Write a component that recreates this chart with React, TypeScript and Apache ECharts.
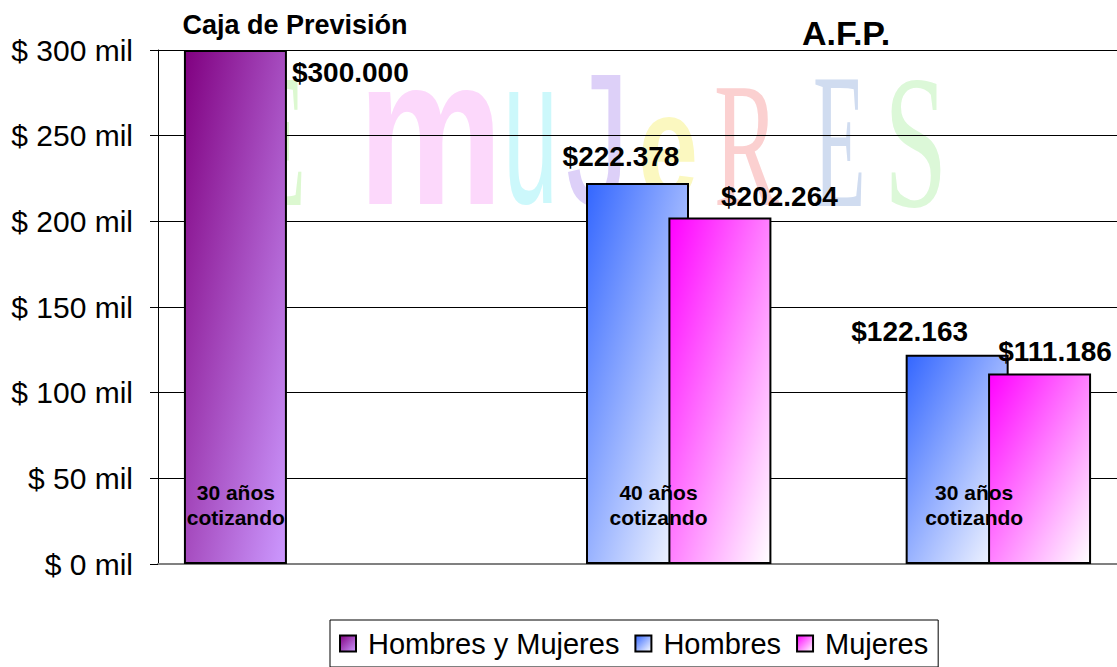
import React, { useEffect, useRef } from "react";
import * as echarts from "echarts";

const categories = ["Caja de Previsión", "A.F.P. 40 años", "A.F.P. 30 años"];
const seriesNames = ["Hombres y Mujeres", "Hombres", "Mujeres"];
const ambos: (number | null)[] = [300000, null, null];
const hombres: (number | null)[] = [null, 222378, 122163];
const mujeres: (number | null)[] = [null, 202264, 111186];
const annotations = ["30 años\ncotizando", "40 años\ncotizando", "30 años\ncotizando"];
const annotationShift = [-82, 21, 17];
const annotationValue = 34700;

// label anchor positions relative to each bar's top-left corner
const ambosLabelPos: number[][] = [[108, 22], [0, 0], [0, 0]];
const hombresLabelPos: number[][] = [[0, 0], [35, -26], [4, -23]];
const mujeresLabelPos: number[][] = [[0, 0], [111, -21], [67, -22]];

const FONT = 'Arial, "Liberation Sans", sans-serif';
const SERIF = '"Liberation Serif", "DejaVu Serif", serif';

const fmt = (v: number) => "$" + String(v).replace(/\B(?=(\d{3})+(?!\d))/g, ".");

const grad = (a: string, b: string) =>
  new echarts.graphic.LinearGradient(0, 0, 1, 1, [
    { offset: 0, color: a },
    { offset: 1, color: b },
  ]);

const watermark = [
  { t: "E", x: 248, y: 140, font: `190px ${SERIF}`, fill: "#dcf8d0", sx: 0.5, sy: 1 },
  { t: "m", x: 358, y: 131, font: `bold 163px ${FONT}`, fill: "#fcd8fb", sx: 1, sy: 1.3 },
  { t: "u", x: 503, y: 131, font: `110px ${FONT}`, fill: "#ccf8fb", sx: 0.9, sy: 1.9 },
  { t: "J", x: 566, y: 139, font: `150px ${FONT}`, fill: "#ddd0f8", sx: 0.85, sy: 1.25 },
  { t: "e", x: 638, y: 146, font: `bold 108px ${FONT}`, fill: "#fbf8c0", sx: 1, sy: 1.4 },
  { t: "R", x: 714, y: 146, font: `177px ${SERIF}`, fill: "#fbd0d0", sx: 0.55, sy: 1 },
  { t: "E", x: 813, y: 141, font: `192px ${SERIF}`, fill: "#d0dcf0", sx: 0.45, sy: 1 },
  { t: "S", x: 884, y: 142, font: `190px ${SERIF}`, fill: "#dcf8d8", sx: 0.6, sy: 1 },
];

const makeData = (vals: (number | null)[], pos: number[][]) =>
  vals.map((v, i) => (v == null ? null : { value: v, label: { position: pos[i] } }));

export default function App() {
  const ref = useRef<HTMLDivElement>(null);
  useEffect(() => {
    document.body.style.margin = "0";
    const chart = echarts.init(ref.current!, null, { renderer: "svg" });
    const labelBase = {
      show: true,
      formatter: (p: any) => fmt(p.value),
      fontSize: 28,
      fontWeight: "bold" as const,
      fontFamily: FONT,
      color: "#000",
      align: "center" as const,
      verticalAlign: "middle" as const,
    };
    const option: any = {
      animation: false,
      backgroundColor: "#fff",
      grid: { left: 158, right: -1, top: 50, bottom: 103 },
      legend: {
        left: 330,
        top: 620,
        data: seriesNames,
        icon: "rect",
        itemWidth: 16,
        itemHeight: 16,
        itemGap: 15,
        borderColor: "#000",
        borderWidth: 1,
        padding: [9, 10, 9, 9],
        textStyle: { fontSize: 29, fontFamily: FONT, color: "#000", padding: [0, 0, 0, 7] },
      },
      xAxis: {
        type: "category",
        data: categories,
        axisLine: { show: true, lineStyle: { color: "#808080", width: 2 } },
        axisTick: { show: false },
        axisLabel: { show: false },
        splitLine: { show: false },
      },
      yAxis: {
        type: "value",
        min: 0,
        max: 300000,
        interval: 50000,
        axisLine: { show: true, lineStyle: { color: "#000", width: 1 } },
        axisTick: { show: true, length: 8, lineStyle: { color: "#000" } },
        axisLabel: {
          formatter: (v: number) => "$ " + v / 1000 + " mil",
          fontSize: 30,
          fontFamily: FONT,
          color: "#000",
          margin: 25,
        },
        splitLine: { show: true, lineStyle: { color: "#000", width: 1 } },
      },
      series: [
        {
          name: seriesNames[0],
          type: "bar",
          barWidth: 103,
          barGap: "-20%",
          data: makeData(ambos, ambosLabelPos),
          itemStyle: { color: grad("#800080", "#cc99ff"), borderColor: "#000", borderWidth: 2 },
          label: { ...labelBase, align: "left" },
        },
        {
          name: seriesNames[1],
          type: "bar",
          barWidth: 103,
          barGap: "-20%",
          data: makeData(hombres, hombresLabelPos),
          itemStyle: { color: grad("#3366ff", "#ffffff"), borderColor: "#000", borderWidth: 2 },
          label: labelBase,
        },
        {
          name: seriesNames[2],
          type: "bar",
          barWidth: 103,
          barGap: "-20%",
          data: makeData(mujeres, mujeresLabelPos),
          itemStyle: { color: grad("#ff00ff", "#ffffff"), borderColor: "#000", borderWidth: 2 },
          label: labelBase,
        },
      ],
    };
    chart.setOption(option);

    const graphics: any[] = watermark.map((w) => ({
      type: "text",
      x: w.x,
      y: w.y,
      scaleX: w.sx,
      scaleY: w.sy,
      z: -1,
      silent: true,
      style: { text: w.t, font: w.font, fill: w.fill, align: "left", verticalAlign: "middle" },
    }));
    graphics.push(
      {
        type: "text",
        x: 295,
        y: 25,
        z: 10,
        style: { text: "Caja de Previsión", font: `bold 27px ${FONT}`, fill: "#000", align: "center", verticalAlign: "middle" },
      },
      {
        type: "text",
        x: 846,
        y: 33,
        z: 10,
        style: { text: "A.F.P.", font: `bold 34px ${FONT}`, fill: "#000", align: "center", verticalAlign: "middle" },
      }
    );
    categories.forEach((c, i) => {
      const p = chart.convertToPixel({ gridIndex: 0 }, [c, annotationValue]) as number[];
      graphics.push({
        type: "text",
        x: p[0] + annotationShift[i],
        y: p[1],
        z: 10,
        style: {
          text: annotations[i],
          font: `bold 21px ${FONT}`,
          lineHeight: 25,
          fill: "#000",
          align: "center",
          verticalAlign: "middle",
        },
      });
    });
    chart.setOption({ graphic: graphics });
    return () => chart.dispose();
  }, []);
  return <div ref={ref} style={{ width: 1117, height: 667 }} />;
}
